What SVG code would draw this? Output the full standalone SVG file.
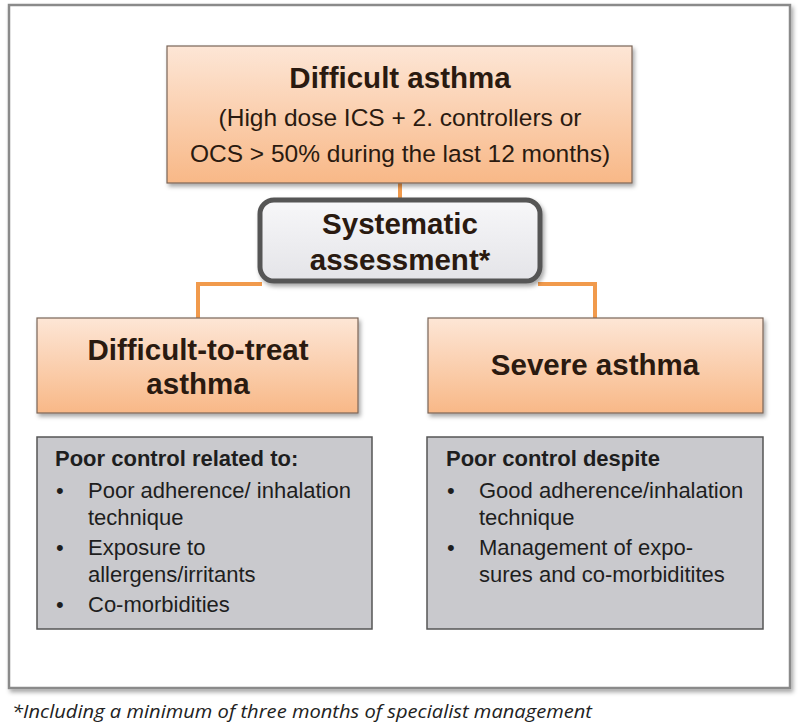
<svg xmlns="http://www.w3.org/2000/svg" width="800" height="727" viewBox="0 0 800 727">
<defs>
<linearGradient id="og" x1="0" y1="0" x2="0" y2="1">
<stop offset="0" stop-color="#fde6d6"/>
<stop offset="1" stop-color="#f8b887"/>
</linearGradient>
<linearGradient id="sg" x1="0" y1="0" x2="0" y2="1">
<stop offset="0" stop-color="#f7f7f9"/>
<stop offset="1" stop-color="#e4e4e8"/>
</linearGradient>
<filter id="sh" x="-10%" y="-10%" width="125%" height="130%">
<feDropShadow dx="2" dy="3" stdDeviation="2" flood-color="#000" flood-opacity="0.35"/>
</filter>
<style>
.ob{fill:url(#og);stroke:#7a6558;stroke-width:1.2;filter:url(#sh)}
.gb{fill:#c9c9cd;stroke:#555;stroke-width:1.5}
.t{font-family:"Liberation Sans",Arial,sans-serif;fill:#2a1a10}
.b{font-weight:bold}
.g{font-family:"Liberation Sans",Arial,sans-serif;fill:#1e1e1e}
.c{fill:none;stroke:#f19a4c;stroke-width:4}
</style>
</defs>
<rect x="0" y="0" width="800" height="727" fill="#fff"/>
<rect x="9" y="5" width="781" height="683" fill="#fff" stroke="#8a8a8a" stroke-width="2.5" filter="url(#sh)"/>
<g id="connectors">
<line class="c" x1="400" y1="183" x2="400" y2="200"/>
<polyline class="c" points="262,284 198,284 198,318"/>
<polyline class="c" points="538,284 595,284 595,318"/>
</g>
<g id="difficult-asthma">
<rect class="ob" x="167" y="46" width="465" height="137"/>
<text class="t b" x="400" y="88" font-size="29.5" text-anchor="middle">Difficult asthma</text>
<text class="t" x="400" y="126" font-size="24.5" text-anchor="middle">(High dose ICS + 2. controllers or</text>
<text class="t" x="400" y="162" font-size="24.5" text-anchor="middle">OCS &gt; 50% during the last 12 months)</text>
</g>
<g id="systematic-assessment">
<rect x="260" y="200" width="280" height="81" rx="14" fill="url(#sg)" stroke="#555" stroke-width="5" filter="url(#sh)"/>
<text class="t b" x="400" y="234" font-size="29.5" text-anchor="middle">Systematic</text>
<text class="t b" x="400" y="270" font-size="29.5" text-anchor="middle">assessment*</text>
</g>
<g id="difficult-to-treat">
<rect class="ob" x="37" y="318" width="321" height="95"/>
<text class="t b" x="198" y="360" font-size="29.5" text-anchor="middle">Difficult-to-treat</text>
<text class="t b" x="198" y="394" font-size="29.5" text-anchor="middle">asthma</text>
</g>
<g id="severe-asthma">
<rect class="ob" x="428" y="318" width="335" height="95"/>
<text class="t b" x="595" y="375" font-size="29.5" text-anchor="middle">Severe asthma</text>
</g>
<g id="poor-control-related">
<rect class="gb" x="37" y="437" width="335" height="192"/>
<text class="g b" x="55" y="466" font-size="22">Poor control related to:</text>
<g class="g" font-size="22">
<text x="56" y="498">•</text><text x="88" y="498">Poor adherence/ inhalation</text>
<text x="88" y="525">technique</text>
<text x="56" y="555">•</text><text x="88" y="555">Exposure to</text>
<text x="88" y="582">allergens/irritants</text>
<text x="56" y="612">•</text><text x="88" y="612">Co-morbidities</text>
</g>
</g>
<g id="poor-control-despite">
<rect class="gb" x="427" y="437" width="336" height="192"/>
<text class="g b" x="446" y="466" font-size="22">Poor control despite</text>
<g class="g" font-size="22">
<text x="447" y="498">•</text><text x="479" y="498">Good adherence/inhalation</text>
<text x="479" y="525">technique</text>
<text x="447" y="555">•</text><text x="479" y="555">Management of expo-</text>
<text x="479" y="582">sures and co-morbiditites</text>
</g>
</g>
<text x="12" y="718" font-family="'Open Sans','Liberation Sans',sans-serif" font-style="italic" font-size="19" fill="#222" textLength="580" lengthAdjust="spacingAndGlyphs">*Including a minimum of three months of specialist management</text>
</svg>
